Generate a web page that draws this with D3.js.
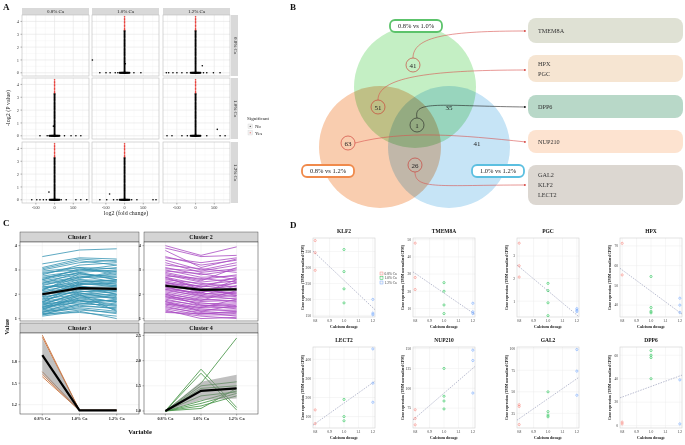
<!DOCTYPE html>
<html><head><meta charset="utf-8">
<script src="https://cdn.jsdelivr.net/npm/d3@7"></script>
<style>body{margin:0;background:#fff} svg{font-family:"Liberation Serif","Times New Roman",serif}</style>
</head><body><svg id="c" width="685" height="445"></svg>
<script>
// ================= DATA =================
// Panel A (volcano facets)
const aConds = ["0.8% Ca","1.0% Ca","1.2% Ca"];
const aTicksX = [-500, 0, 500];
const aTicksY = [0, 1, 2, 3, 4];
const aStackBlack = [0.02,0.1,0.2,0.3,0.4,0.5,0.6,0.7,0.8,0.9,1.0,1.1,1.2,1.3,1.4,1.5,1.6,1.7,1.8,1.9,2.0,2.1,2.2,2.3,2.4,2.5,2.6,2.7,2.8,2.9,3.0,3.1,3.2,3.28];
const aStackRed = [3.36,3.46,3.58,3.68,3.8,3.92,4.02,4.14,4.25,4.36];
const aBand = [-130,-110,-90,-75,-60,-45,-30,-20,-10,0,10,20,30,45,60,75,90,110,130];
const aR1C2 = [-660,-496,-386,-249,-180,-112, 250, 436];
const aR1C2Out = [[20,0.7],[-860,1.0]];
const aR1C3 = [-781,-719,-604,-498,-365,-230,211,300,477,654];
const aR1C3Out = [[180,0.55]];
const aR2C1 = [-390,-198,-145,265,440,570,702];
const aR2C1Out = [[-30,0.75]];
const aR2C3 = [-763,-630,-364,-220,300,655,789];
const aR2C3Out = [[580,0.5]];
const aR3C1 = [-608,-475,-390,-300,-220,178,311,570,702,860];
const aR3C1Out = [[-150,0.6]];
const aR3C2 = [-660,-477,-294,-200,190,330,760,840];
const aR3C2Out = [[-400,0.45]];

// Panel B (Venn)
const vennSets = ["0.8% vs 1.0%","0.8% vs 1.2%","1.0% vs 1.2%"];
const vennCounts = [41, 51, 35, 1, 63, 41, 26];
const geneGroups = [["TMEM8A"],["HPX","PGC"],["DPP6"],["NUP210"],["GAL2","KLF2","LECT2"]];

// Panel C (clusters)
const cVars = ["0.8% Ca","1.0% Ca","1.2% Ca"];
const c1Lines = [[3.55,3.82,3.87],[3.25,3.5,3.45],[3.1,3.45,3.35],[3.05,3.38,3.2],[3.0,3.3,3.4],[2.95,3.1,3.05],[2.8,3.2,3.3],[2.9,3.0,2.95],[2.75,2.95,3.1],[2.7,2.85,2.7],[2.6,3.05,2.9],[2.55,2.8,2.75],[2.5,2.7,2.85],[2.45,2.9,2.6],[2.4,2.6,2.55],[2.35,2.75,2.5],[2.3,2.5,2.6],[2.25,2.45,2.3],[2.2,2.6,2.4],[2.15,2.4,2.45],[2.1,2.3,2.2],[2.05,2.55,2.35],[2.0,2.2,2.25],[1.95,2.35,2.1],[1.9,2.1,2.15],[1.85,2.25,2.0],[1.8,2.0,2.1],[1.75,2.15,1.9],[1.7,1.95,2.0],[1.65,1.9,1.85],[1.6,2.05,1.8],[1.55,1.85,1.95],[1.5,1.8,1.7],[1.45,1.75,1.6],[1.4,1.7,1.75],[1.35,1.6,1.55],[1.3,1.55,1.4],[1.25,1.5,1.45],[1.2,1.45,1.3],[1.15,1.35,1.25],[1.1,1.3,1.0],[1.2,1.25,1.1],[1.3,1.4,1.2],[2.6,2.9,3.0],[2.0,2.4,2.5],[1.5,1.65,1.5],[2.85,3.1,2.8],[1.4,1.85,1.7],[2.2,2.7,2.7],[1.6,1.75,1.35],[2.3,2.35,2.0],[1.8,2.3,2.3],[2.65,3.0,3.2],[1.7,2.2,2.15],[1.9,2.5,2.55],[1.35,1.95,1.65],[1.55,2.1,2.2],[2.45,2.65,2.95],[1.25,1.75,1.55],[2.05,2.05,1.85],[1.65,2.45,2.35],[1.45,2.0,1.3],[2.15,2.85,2.6],[1.15,1.6,1.8]];
const c1Mean = [2.0, 2.25, 2.22];
const c1Lo = [1.94, 2.19, 2.16];
const c1Hi = [2.06, 2.31, 2.28];
const c2Lines = [[4.0,3.6,3.95],[3.9,3.55,3.6],[3.8,3.1,3.45],[3.55,3.2,3.4],[3.4,3.0,3.3],[3.3,2.9,3.05],[3.2,3.05,2.9],[3.1,2.8,3.0],[3.0,2.7,2.75],[2.95,2.85,2.6],[2.9,2.6,2.8],[2.8,2.5,2.65],[2.75,2.65,2.5],[2.7,2.4,2.55],[2.6,2.45,2.3],[2.55,2.3,2.45],[2.5,2.2,2.35],[2.45,2.35,2.2],[2.4,2.1,2.25],[2.35,2.15,2.0],[2.3,2.0,2.1],[2.25,2.05,1.9],[2.2,1.9,2.05],[2.15,1.95,1.8],[2.1,1.85,1.95],[2.05,1.75,1.85],[2.0,1.8,1.7],[1.95,1.7,1.75],[1.9,1.6,1.65],[1.85,1.65,1.5],[1.8,1.5,1.6],[1.75,1.55,1.4],[1.7,1.45,1.45],[1.65,1.4,1.3],[1.6,1.35,1.35],[1.55,1.3,1.2],[1.5,1.2,1.25],[1.45,1.25,1.1],[1.4,1.15,1.15],[1.35,1.0,1.05],[1.3,1.1,1.0],[1.25,1.2,1.3],[2.85,2.55,3.1],[3.5,3.3,3.5],[2.65,2.3,2.7],[1.9,1.75,2.15],[2.2,2.05,2.5],[1.6,1.45,1.8],[3.05,2.95,3.2],[2.4,2.25,1.95],[2.0,1.55,1.5],[2.7,2.2,2.05],[1.7,1.3,1.55],[2.3,1.95,2.35],[2.5,2.05,2.6]];
const c2Mean = [2.35, 2.18, 2.2];
const c2Lo = [2.29, 2.12, 2.14];
const c2Hi = [2.41, 2.24, 2.26];
const c3Lines = [[2.17,1.12,1.12],[2.14,1.12,1.12],[1.66,1.12,1.12],[1.62,1.12,1.12],[1.59,1.12,1.12]];
const c3Mean = [1.89, 1.12, 1.12];
const c3Lo = [1.63, 1.11, 1.11];
const c3Hi = [2.12, 1.13, 1.13];
const c4Lines = [[1.0,1.83,1.07],[1.0,1.75,1.02],[1.0,1.55,2.45],[1.0,1.5,1.58],[1.0,1.45,1.5],[1.0,1.3,1.38],[1.0,1.2,1.4],[1.0,1.15,1.35],[1.0,1.1,1.3],[1.0,1.05,1.45]];
const c4Mean = [1.0, 1.4, 1.45];
const c4Lo = [0.99, 1.22, 1.25];
const c4Hi = [1.01, 1.58, 1.72];

// Panel D (gene scatter)
const dDoses = [0.8, 1.0, 1.2];
const dGenes = ["KLF2","TMEM8A","PGC","HPX","LECT2","NUP210","GAL2","DPP6"];
const klf2 = [[384,346,291],[356,287,233,189],[200,157,152]];
const tmem8a = [[48,28,21],[25,20,12,7],[13,8,7]];
const pgc = [[3.57,2.57,2.07],[1.79,1.47,0.93,0.36],[0.67,0.6,0.54]];
const hpx = [[71.3,55.3],[54.5,38.8,36.9,36.1],[43.5,40,36.3]];
const lect2 = [[135,63],[190,100,78],[455,275,175]];
const nup210 = [[73,62,54],[125,90,84,74],[148,135,94]];
const gal2 = [[35,33,12],[50,27,23,21],[99,74,46]];
const dpp6 = [[3,1.5],[64,60,58,40],[39,1.5]];
const dTicks = [[150,200,250,300,350],[10,20,30,40,50],[1,2,3],[40,50,60,70],[100,200,300,400],[75,100,125,150],[25,50,75,100],[0,20,40,60]];
const dDomains = [[145,392],[5,51],[0.3,3.8],[34,74],[40,465],[50,152],[8,102],[-2,67]];

// ================= DRAW =================
const svg = d3.select("#c");
function txt(g,x,y,s,o={}){const t=g.append("text").attr("x",x).attr("y",y).text(s)
 .attr("font-size",o.fs||6).attr("fill",o.fill||"#111").attr("text-anchor",o.anchor||"start")
 .attr("font-weight",o.fw||"normal");
 if(o.rot!==undefined) t.attr("transform",`rotate(${o.rot},${x},${y})`); return t;}

// ---------- Panel A ----------
txt(svg,3,10,"A",{fs:9,fw:"bold"});
const colX=[22,92,163], colW=67, rowY=[15,78,142], rowH=61;
const aData = {"0-1":[aR1C2,aR1C2Out],"0-2":[aR1C3,aR1C3Out],"1-0":[aR2C1,aR2C1Out],"1-2":[aR2C3,aR2C3Out],"2-0":[aR3C1,aR3C1Out],"2-1":[aR3C2,aR3C2Out]};
for(let c=0;c<3;c++){
  svg.append("rect").attr("x",colX[c]).attr("y",8).attr("width",colW).attr("height",7).attr("fill","#d9d9d9");
  txt(svg,colX[c]+colW/2,13.3,aConds[c],{fs:5,anchor:"middle",fill:"#222"});
}
for(let r=0;r<3;r++){
  svg.append("rect").attr("x",231).attr("y",rowY[r]).attr("width",7).attr("height",rowH).attr("fill","#d9d9d9");
  txt(svg,233.5,rowY[r]+rowH/2,aConds[r],{fs:5,anchor:"middle",rot:90,fill:"#222"});
}
for(let r=0;r<3;r++) for(let c=0;c<3;c++){
  const x=d3.scaleLinear().domain([-870,920]).range([colX[c],colX[c]+colW]);
  const y=d3.scaleLinear().domain([-0.25,4.5]).range([rowY[r]+rowH,rowY[r]]);
  const g=svg.append("g");
  g.append("rect").attr("x",colX[c]).attr("y",rowY[r]).attr("width",colW).attr("height",rowH).attr("fill","#fff");
  [-750,-250,250,750].forEach(v=>g.append("line").attr("x1",x(v)).attr("x2",x(v)).attr("y1",rowY[r]).attr("y2",rowY[r]+rowH).attr("stroke","#f3f3f3").attr("stroke-width",0.4));
  [0.5,1.5,2.5,3.5].forEach(v=>g.append("line").attr("y1",y(v)).attr("y2",y(v)).attr("x1",colX[c]).attr("x2",colX[c]+colW).attr("stroke","#f3f3f3").attr("stroke-width",0.4));
  aTicksX.forEach(v=>g.append("line").attr("x1",x(v)).attr("x2",x(v)).attr("y1",rowY[r]).attr("y2",rowY[r]+rowH).attr("stroke","#e4e4e4").attr("stroke-width",0.6));
  aTicksY.forEach(v=>g.append("line").attr("y1",y(v)).attr("y2",y(v)).attr("x1",colX[c]).attr("x2",colX[c]+colW).attr("stroke","#e4e4e4").attr("stroke-width",0.6));
  g.append("rect").attr("x",colX[c]).attr("y",rowY[r]).attr("width",colW).attr("height",rowH).attr("fill","none").attr("stroke","#bdbdbd").attr("stroke-width",0.6);
  if(c===0){ aTicksY.forEach(v=>{ txt(g,colX[c]-3,y(v)+1.6,String(v),{fs:4.5,anchor:"end",fill:"#444"});
     g.append("line").attr("x1",colX[c]-1.5).attr("x2",colX[c]).attr("y1",y(v)).attr("y2",y(v)).attr("stroke","#444").attr("stroke-width",0.4);});}
  if(r===2){ aTicksX.forEach(v=>{ txt(g,x(v),rowY[r]+rowH+5.5,String(v),{fs:4.3,anchor:"middle",fill:"#444"});
     g.append("line").attr("x1",x(v)).attr("x2",x(v)).attr("y1",rowY[r]+rowH).attr("y2",rowY[r]+rowH+1.5).attr("stroke","#444").attr("stroke-width",0.4);});}
  const d=aData[r+"-"+c]; if(!d) continue;
  d[0].forEach(v=>g.append("circle").attr("cx",x(v)).attr("cy",y(0)).attr("r",0.8).attr("fill","#000"));
  aBand.forEach(v=>g.append("circle").attr("cx",x(v)).attr("cy",y(0)).attr("r",1).attr("fill","#000"));
  d[1].forEach(p=>g.append("circle").attr("cx",x(p[0])).attr("cy",y(p[1])).attr("r",0.8).attr("fill","#000"));
  aStackBlack.forEach(v=>g.append("circle").attr("cx",x(0)).attr("cy",y(v)).attr("r",1).attr("fill","#000"));
  aStackRed.forEach(v=>g.append("circle").attr("cx",x(0)).attr("cy",y(v)).attr("r",0.8).attr("fill","#e8433e"));
}
txt(svg,126,215,"log2 (fold change)",{fs:6,anchor:"middle",fill:"#222"});
txt(svg,10,108,"-log2 (P value)",{fs:6,anchor:"middle",rot:-90,fill:"#222"});
txt(svg,247,120,"Significant",{fs:5,fill:"#222"});
[["No","#000"],["Yes","#e8433e"]].forEach((k,i)=>{
  svg.append("rect").attr("x",248).attr("y",124+i*6.5).attr("width",4.5).attr("height",4.5).attr("fill","#f2f2f2").attr("stroke","#ccc").attr("stroke-width",0.3);
  svg.append("circle").attr("cx",250.25).attr("cy",126.25+i*6.5).attr("r",0.6).attr("fill",k[1]);
  txt(svg,255,128+i*6.5,k[0],{fs:5,fill:"#222"});
});

// ---------- Panel B ----------
txt(svg,290,10,"B",{fs:9,fw:"bold"});
const gB = svg.append("g");
const circ=[{cx:415,cy:87,fill:"#c4efc4"},{cx:380,cy:147,fill:"#f9cdaf"},{cx:449,cy:147,fill:"#c6e4f6"}];
circ.forEach(cc=>gB.append("circle").attr("cx",cc.cx).attr("cy",cc.cy).attr("r",61).attr("fill",cc.fill).style("mix-blend-mode","multiply"));
const boxY=[[18,43,"#dfe1d4"],[55,82,"#f6e5d2"],[95,118,"#b8d8c8"],[130,153,"#fde3d0"],[165,205,"#dcd7d1"]];
boxY.forEach((b,i)=>{
  gB.append("rect").attr("x",528).attr("y",b[0]).attr("width",155).attr("height",b[1]-b[0]).attr("rx",8).attr("fill",b[2]);
  const genes=geneGroups[i]; const mid=(b[0]+b[1])/2;
  genes.forEach((gname,j)=>txt(gB,538,mid+2.2+(j-(genes.length-1)/2)*10,gname,{fs:6.2,fill:"#333"}));
});
const defs=svg.append("defs");
[["ar","#d9534f"],["ak","#222"]].forEach(m=>defs.append("marker").attr("id",m[0]).attr("viewBox","0 0 6 6").attr("refX",5).attr("refY",3)
  .attr("markerWidth",4).attr("markerHeight",4).attr("orient","auto").append("path").attr("d","M0,0L6,3L0,6Z").attr("fill",m[1]));
const arrows=[["M413,58 C413,36 450,31 526,31","ar","#d9534f"],["M378,100 C378,78 425,70 526,70","ar","#d9534f"],
 ["M417,118 C413,100 440,106 526,107","ak","#222"],["M355,143 C405,130 460,135 526,142","ar","#d9534f"],["M415,172 C415,190 440,185 526,185","ar","#d9534f"]];
arrows.forEach(a=>gB.append("path").attr("d",a[0]).attr("fill","none").attr("stroke",a[2]).attr("stroke-width",0.6).attr("marker-end",`url(#${a[1]})`));
const cnt=[[413,65,true,"#c9302c"],[378,107,true,"#c9302c"],[449,107,false],[417,125,true,"#222"],[348,143,true,"#c9302c"],[477,143,false],[415,165,true,"#c9302c"]];
cnt.forEach((c,i)=>{
  if(c[2]) gB.append("circle").attr("cx",c[0]).attr("cy",c[1]).attr("r",7).attr("fill","none").attr("stroke",c[3]).attr("stroke-width",0.6);
  txt(gB,c[0],c[1]+2.5,String(vennCounts[i]),{fs:7,anchor:"middle",fill:"#222"});
});
const lab=[[416,26,"#5cc36b"],[328,171,"#f08a4b"],[498,171,"#5bbfe0"]];
lab.forEach((l,i)=>{
  gB.append("rect").attr("x",l[0]-26).attr("y",l[1]-6).attr("width",52).attr("height",12).attr("rx",5).attr("fill","#fff").attr("stroke",l[2]).attr("stroke-width",1.8);
  txt(gB,l[0],l[1]+2.4,vennSets[i],{fs:6.5,anchor:"middle",fill:"#222"});
});

// ---------- Panel C ----------
txt(svg,3,226,"C",{fs:9,fw:"bold"});
const cPanels=[
 {x0:20,x1:139,y0:242,y1:321,title:"Cluster 1",lines:c1Lines,mean:c1Mean,lo:c1Lo,hi:c1Hi,col:"#3593b3",dom:[0.9,4.15],ticks:[1,2,3,4],fmt:d3.format("d")},
 {x0:144,x1:258,y0:242,y1:321,title:"Cluster 2",lines:c2Lines,mean:c2Mean,lo:c2Lo,hi:c2Hi,col:"#a94bc3",dom:[0.9,4.15],ticks:[1,2,3,4],fmt:d3.format("d")},
 {x0:20,x1:139,y0:333,y1:414,title:"Cluster 3",lines:c3Lines,mean:c3Mean,lo:c3Lo,hi:c3Hi,col:"#c4662c",dom:[1.07,2.2],ticks:[1.2,1.5,1.8],fmt:d3.format(".1f")},
 {x0:144,x1:258,y0:333,y1:414,title:"Cluster 4",lines:c4Lines,mean:c4Mean,lo:c4Lo,hi:c4Hi,col:"#3c8f3c",dom:[0.94,2.55],ticks:[1.0,1.5,2.0,2.5],fmt:d3.format(".1f")}];
cPanels.forEach((p,pi)=>{
  const g=svg.append("g");
  const x=d3.scalePoint().domain(cVars).range([p.x0,p.x1]).padding(0.6);
  const y=d3.scaleLinear().domain(p.dom).range([p.y1,p.y0]);
  g.append("rect").attr("x",p.x0).attr("y",p.y0-10).attr("width",p.x1-p.x0).attr("height",10).attr("fill","#d4d4d4").attr("stroke","#333").attr("stroke-width",0.4);
  txt(g,(p.x0+p.x1)/2,p.y0-3,p.title,{fs:6,fw:"bold",anchor:"middle",fill:"#111"});
  g.append("rect").attr("x",p.x0).attr("y",p.y0).attr("width",p.x1-p.x0).attr("height",p.y1-p.y0).attr("fill","#fff");
  cVars.forEach(v=>g.append("line").attr("x1",x(v)).attr("x2",x(v)).attr("y1",p.y0).attr("y2",p.y1).attr("stroke","#ebebeb").attr("stroke-width",0.5));
  p.ticks.forEach(v=>g.append("line").attr("y1",y(v)).attr("y2",y(v)).attr("x1",p.x0).attr("x2",p.x1).attr("stroke","#ebebeb").attr("stroke-width",0.5));
  const line=d3.line().x((d,i)=>x(cVars[i])).y(d=>y(d));
  p.lines.forEach(l=>g.append("path").attr("d",line(l)).attr("fill","none").attr("stroke",p.col).attr("stroke-width",0.8));
  const area=d3.area().x((d,i)=>x(cVars[i])).y0((d,i)=>y(p.lo[i])).y1((d,i)=>y(p.hi[i]));
  g.append("path").attr("d",area(p.mean)).attr("fill","#8c8c8c").attr("opacity",0.55);
  g.append("path").attr("d",line(p.mean)).attr("fill","none").attr("stroke","#000").attr("stroke-width",2.2);
  g.append("rect").attr("x",p.x0).attr("y",p.y0).attr("width",p.x1-p.x0).attr("height",p.y1-p.y0).attr("fill","none").attr("stroke","#333").attr("stroke-width",0.5);
  p.ticks.forEach(v=>{txt(g,p.x0-3,y(v)+1.5,p.fmt(v),{fs:4.3,fw:"bold",anchor:"end",fill:"#222"});
    g.append("line").attr("x1",p.x0-1.5).attr("x2",p.x0).attr("y1",y(v)).attr("y2",y(v)).attr("stroke","#333").attr("stroke-width",0.4);});
  if(pi>=2) cVars.forEach(v=>{txt(g,x(v),420,v,{fs:4.3,fw:"bold",anchor:"middle",fill:"#222"});
    g.append("line").attr("x1",x(v)).attr("x2",x(v)).attr("y1",p.y1).attr("y2",p.y1+1.5).attr("stroke","#333").attr("stroke-width",0.4);});
});
txt(svg,140,434,"Variable",{fs:6.5,fw:"bold",anchor:"middle"});
txt(svg,9,327,"Value",{fs:6.5,fw:"bold",anchor:"middle",rot:-90});

// ---------- Panel D ----------
txt(svg,290,228,"D",{fs:9,fw:"bold"});
const dColX=[313,413,517,620], dW=62;
const dRows=[[238,317],[347,428]];
const dData=[klf2,tmem8a,pgc,hpx,lect2,nup210,gal2,dpp6];
const dCols=["#f8766d","#00ba38","#619cff"];
dGenes.forEach((gname,i)=>{
  const r=Math.floor(i/4), c=i%4;
  const x0=dColX[c], x1=x0+dW, y0=dRows[r][0], y1=dRows[r][1];
  const g=svg.append("g");
  const x=d3.scaleLinear().domain([0.785,1.215]).range([x0,x1]);
  const y=d3.scaleLinear().domain(dDomains[i]).range([y1,y0]);
  [0.8,0.9,1.0,1.1,1.2].forEach(v=>g.append("line").attr("x1",x(v)).attr("x2",x(v)).attr("y1",y0).attr("y2",y1).attr("stroke","#ececec").attr("stroke-width",0.5));
  dTicks[i].forEach(v=>g.append("line").attr("y1",y(v)).attr("y2",y(v)).attr("x1",x0).attr("x2",x1).attr("stroke","#ececec").attr("stroke-width",0.5));
  g.append("rect").attr("x",x0).attr("y",y0).attr("width",dW).attr("height",y1-y0).attr("fill","none").attr("stroke","#cfcfcf").attr("stroke-width",0.6);
  const pts=[]; dData[i].forEach((arr,k)=>arr.forEach(v=>pts.push([dDoses[k],v])));
  const mx=d3.mean(pts,p=>p[0]), my=d3.mean(pts,p=>p[1]);
  const b=d3.sum(pts,p=>(p[0]-mx)*(p[1]-my))/d3.sum(pts,p=>(p[0]-mx)**2), a=my-b*mx;
  const yA0=a+b*0.785, yA1=a+b*1.215;
  g.append("line").attr("x1",x(0.785)).attr("x2",x(1.215)).attr("y1",y(yA0)).attr("y2",y(yA1))
    .attr("stroke","#8a8fb0").attr("stroke-width",0.6).attr("stroke-dasharray","1.5,1.2");
  dData[i].forEach((arr,k)=>arr.forEach(v=>g.append("circle").attr("cx",x(dDoses[k])).attr("cy",y(v)).attr("r",1.1)
    .attr("fill","none").attr("stroke",dCols[k]).attr("stroke-width",0.5)));
  dTicks[i].forEach(v=>txt(g,x0-2,y(v)+1.3,String(v),{fs:3.6,anchor:"end",fill:"#333"}));
  [0.8,0.9,1.0,1.1,1.2].forEach(v=>txt(g,x(v),y1+5,d3.format(".1f")(v),{fs:3.6,anchor:"middle",fill:"#333"}));
  txt(g,(x0+x1)/2,y1+10.5,"Calcium dosage",{fs:4.2,fw:"bold",anchor:"middle",fill:"#222"});
  txt(g,x0-9,(y0+y1)/2,"Gene expression (TMM normalized CPM)",{fs:3.6,fw:"bold",anchor:"middle",rot:-90,fill:"#222"});
  txt(g,(x0+x1)/2,y0-5,gname,{fs:5.5,fw:"bold",anchor:"middle",fill:"#111"});
});
["0.8% Ca","1.0% Ca","1.2% Ca"].forEach((l,i)=>{
  svg.append("rect").attr("x",380).attr("y",272+i*4.5).attr("width",3).attr("height",3).attr("fill","#f4f4f4").attr("stroke",dCols[i]).attr("stroke-width",0.4);
  txt(svg,384.5,274.6+i*4.5,l,{fs:3.5,fill:"#333"});
});
</script></body></html>
